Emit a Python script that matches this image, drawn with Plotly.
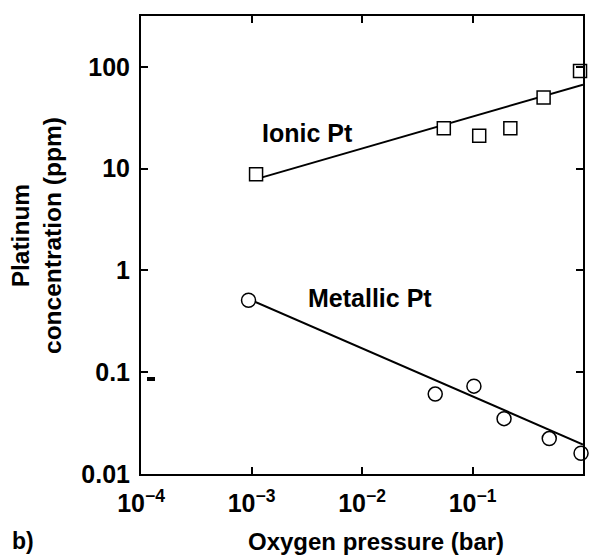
import plotly.graph_objects as go

# Data
ionic_x = [1.1e-3, 0.055, 0.115, 0.22, 0.44, 0.94]
ionic_y = [8.8, 25, 21, 25, 50, 91]
ionic_fit_x = [1.1e-3, 1.0]
ionic_fit_y = [7.9, 67]

metal_x = [9.4e-4, 0.046, 0.103, 0.193, 0.495, 0.96]
metal_y = [0.51, 0.061, 0.073, 0.035, 0.0223, 0.016]
metal_fit_x = [1.0e-3, 1.0]
metal_fit_y = [0.51, 0.0195]

x_tickvals = [1e-4, 1e-3, 1e-2, 1e-1, 1e0]
x_ticktext = ["10<sup>−4</sup>", "10<sup>−3</sup>", "10<sup>−2</sup>", "10<sup>−1</sup>", "10<sup>0</sup>"]
y_tickvals = [0.01, 0.1, 1, 10, 100]
y_ticktext = ["0.01", "0.1", "1", "10", "100"]

FONT = "Liberation Sans, Arial, Helvetica, sans-serif"

W, H = 600, 557
l, r, t, b = 141, 17, 16, 83
pw, ph = W - l - r, H - t - b
def px(xp):
    return (xp - l) / pw
def py(yp):
    return (H - b - yp) / ph

fig = go.Figure()
fig.add_trace(go.Scatter(x=ionic_fit_x, y=ionic_fit_y, mode="lines",
                         line=dict(color="black", width=2), showlegend=False))
fig.add_trace(go.Scatter(x=metal_fit_x, y=metal_fit_y, mode="lines",
                         line=dict(color="black", width=2), showlegend=False))
fig.add_trace(go.Scatter(x=ionic_x, y=ionic_y, mode="markers",
                         marker=dict(symbol="square", size=13, color="white",
                                     line=dict(color="black", width=1.5)),
                         showlegend=False, cliponaxis=False))
fig.add_trace(go.Scatter(x=metal_x, y=metal_y, mode="markers",
                         marker=dict(symbol="circle", size=14, color="white",
                                     line=dict(color="black", width=1.5)),
                         showlegend=False, cliponaxis=False))

fig.update_layout(
    width=W, height=H,
    margin=dict(l=l, r=r, t=t, b=b),
    paper_bgcolor="white", plot_bgcolor="white",
    font=dict(family=FONT, size=25, color="black", weight="bold"),
    xaxis=dict(type="log", range=[-4, 0], tickvals=x_tickvals, ticktext=x_ticktext,
               ticks="inside", ticklen=7, tickwidth=1.5, tickcolor="black",
               showline=True, linecolor="black", linewidth=2, mirror="ticks",
               showgrid=False, zeroline=False, ticklabelstandoff=6),
    yaxis=dict(type="log", range=[-2, 2.5], tickvals=y_tickvals, ticktext=y_ticktext,
               ticks="inside", ticklen=7, tickwidth=1.5, tickcolor="black",
               showline=True, linecolor="black", linewidth=2, mirror="ticks",
               showgrid=False, zeroline=False, ticklabelstandoff=4),
    annotations=[
        dict(text="Ionic Pt", x=-2.489, y=1.347, xref="x", yref="y", showarrow=False,
             font=dict(size=25)),
        dict(text="Metallic Pt", x=-1.928, y=-0.268, xref="x", yref="y", showarrow=False,
             font=dict(size=25)),
        dict(text="Oxygen pressure (bar)", x=px(376), y=py(541), xref="paper", yref="paper",
             xanchor="center", yanchor="middle", showarrow=False, font=dict(size=24)),
        dict(text="Platinum<br>concentration (ppm)", x=px(36), y=py(236), xref="paper",
             yref="paper", xanchor="center", yanchor="middle", showarrow=False,
             textangle=-90, font=dict(size=24.5)),
        dict(text="b)", x=px(23), y=py(541), xref="paper", yref="paper",
             xanchor="center", yanchor="middle", showarrow=False, font=dict(size=23)),
    ],
    shapes=[
        dict(type="rect", xref="paper", yref="paper",
             x0=px(147), x1=px(155), y0=py(381), y1=py(377),
             fillcolor="black", line=dict(width=0)),
    ],
)

fig.write_html("out.html")
